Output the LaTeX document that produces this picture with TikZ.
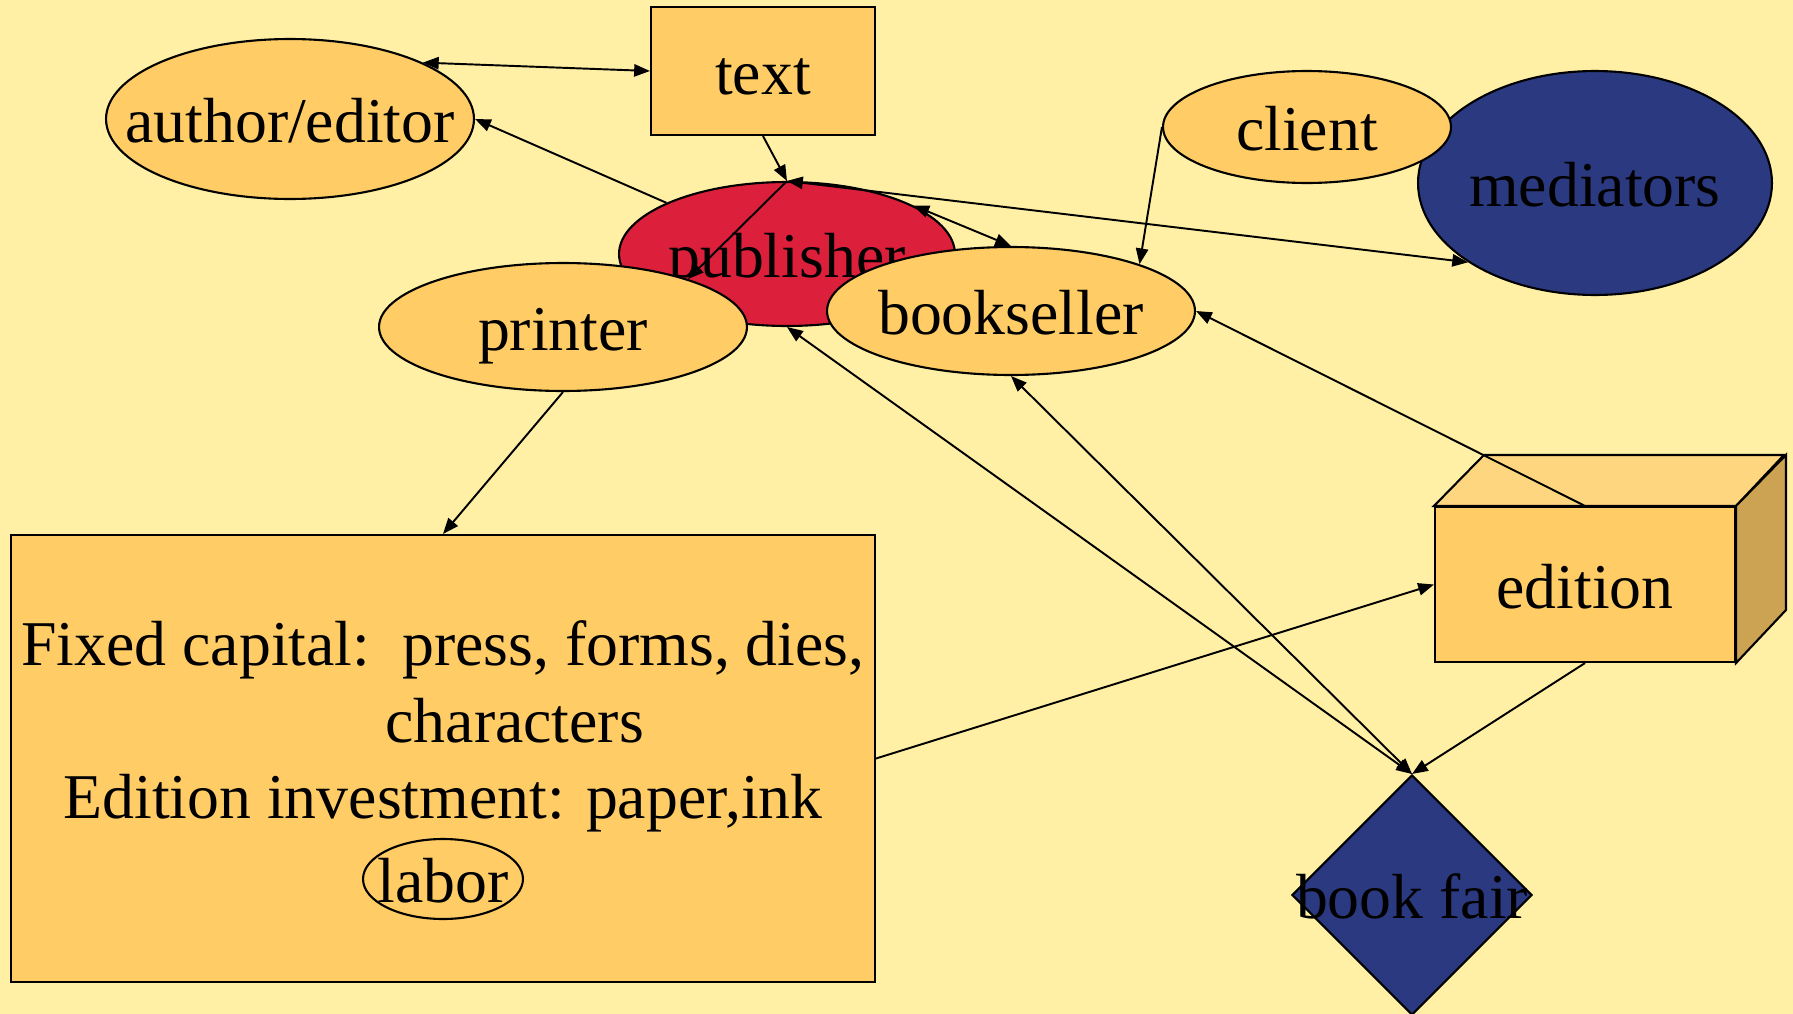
\documentclass[tikz,border=0pt]{standalone}
\usepackage{fontspec}
\setmainfont{Liberation Serif}
\usetikzlibrary{arrows.meta, positioning, shapes.geometric}
\definecolor{bgyellow}{HTML}{FFF0A6}
\definecolor{boxfill}{HTML}{FFCC66}
\definecolor{pubred}{HTML}{DC1F3B}
\definecolor{navy}{HTML}{2B3A80}
\definecolor{toplight}{HTML}{FFD680}
\definecolor{sidedark}{HTML}{CCA352}
\newcommand{\ovaltext}[1]{\makebox[0pt]{#1}}

\begin{document}
\begin{tikzpicture}[x=0.02cm, y=-0.02cm, >={Triangle[length=9pt, width=7pt]},
    every node/.style={font=\fontsize{36.3}{43.6}\selectfont, inner sep=0pt},
    word/.style={text height=29pt, text depth=1.8pt},
    oval/.style={ellipse, draw, line width=1.2pt, fill=boxfill, word},
    box/.style={rectangle, draw, line width=1.2pt, fill=boxfill},
    link/.style={line width=1.1pt}]
    \path[fill=bgyellow, use as bounding box] (0,0) rectangle (1793,1014);

    \node[oval, minimum width=7.36cm, minimum height=3.2cm] (author) at (290,119) {\ovaltext{author/editor}};
    \node[box, word, minimum width=4.48cm, minimum height=2.56cm] (text) at (763,71) {text};
    \node[oval, fill=navy, minimum width=7.08cm, minimum height=4.48cm] (mediators) at (1595,183) {\ovaltext{mediators}};
    \node[oval, minimum width=5.76cm, minimum height=2.24cm] (client) at (1307,127) {\ovaltext{client}};
    \node[oval, fill=pubred, minimum width=6.72cm, minimum height=2.88cm] (publisher) at (787,254) {\ovaltext{publisher}};
    \node[oval, minimum width=7.36cm, minimum height=2.56cm] (printer) at (563,327) {\ovaltext{printer}};
    \node[oval, minimum width=7.36cm, minimum height=2.56cm] (bookseller) at (1011,311) {\ovaltext{bookseller}};

    \node[box, align=center, minimum width=17.28cm, minimum height=8.94cm] (rect) at (443,758.5)
        {Fixed capital:\ \ press, forms, dies,\\ \hspace*{2.25em}characters\\ Edition investment: paper,ink\\ \phantom{labor}};
    \node[ellipse, draw, line width=1.2pt, word, minimum width=3.2cm, minimum height=1.6cm] (labor) at (443,879) {\ovaltext{labor}};

    % edition block
    \node[box, word, minimum width=6cm, minimum height=3.1cm] (edition) at (1585,584.5) {edition};
    \filldraw[line width=1.2pt, fill=toplight] (edition.north west) -- ++(50,-51) -- ++(300,0) -- (edition.north east) -- cycle;
    \filldraw[line width=1.2pt, fill=sidedark] (edition.north east) -- ++(50,-51) -- ++(0,155) -- (edition.south east) -- cycle;

    \node[diamond, draw, line width=1.2pt, fill=navy, minimum width=4.8cm, minimum height=4.8cm] (fair) at (1412,895) {};
    \node[word] (fairlbl) at (fair) {book fair};

    \draw[link, <->] (author.23) -- (text.west);
    \draw[link, ->] (publisher.157) -- (author.east);
    \draw[link, ->] (text.south) -- (publisher.north);
    \draw[link, ->] (publisher.north) -- (printer.21);
    \draw[link, <->] (publisher.north) -- (mediators.212);
    \draw[link, <->] (publisher.21) -- (bookseller.north);
    \draw[link, ->] (client.west) -- (bookseller.20);
    \draw[link, ->] (edition.north) -- (bookseller.east);
    \draw[link, ->] (printer.south) -- (rect.north);
    \draw[link, ->] (rect.east) -- (edition.west);
    \draw[link, ->] (edition.south) -- (fair.north);
    \draw[link, <->] (fair.north) -- (publisher.south);
    \draw[link, <->] (fair.north) -- (bookseller.south);
\end{tikzpicture}
\end{document}
